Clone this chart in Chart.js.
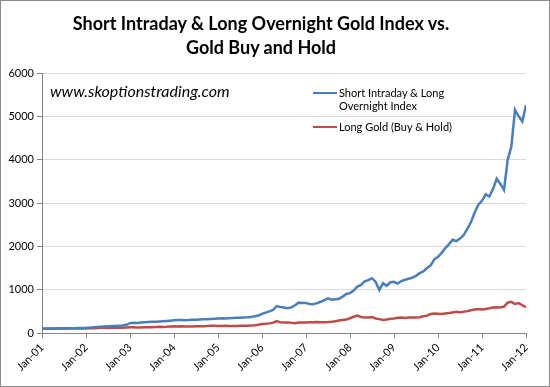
<!DOCTYPE html>
<html><head><meta charset="utf-8">
<script src="https://cdn.jsdelivr.net/npm/chart.js@4/dist/chart.umd.min.js"></script>
<style>
html,body{margin:0;padding:0;background:#fff;}
#wrap{position:relative;width:550px;height:387px;overflow:hidden;background:#fff;}
#frame{position:absolute;left:0;top:0;width:548px;height:385px;border:1px solid #8c8c8c;pointer-events:none;}
#title{position:absolute;left:0;top:11px;width:522px;text-align:center;font:bold 18px Lato, sans-serif;line-height:24px;color:#000;}
#wm{position:absolute;left:50px;top:81px;font:italic 16px Lato, sans-serif;color:#000;white-space:nowrap;}
.lg{position:absolute;font:11px Lato, sans-serif;color:#000;line-height:13px;white-space:nowrap;}
.sw{position:absolute;height:2px;width:24px;}
</style>
</head><body>
<div id="wrap">
<canvas id="c" width="550" height="387"></canvas>
<div id="title">Short Intraday &amp; Long Overnight Gold Index vs.<br>Gold Buy and Hold</div>
<div id="wm">www.skoptionstrading.com</div>
<div class="sw" style="left:313px;top:92px;background:#4a7ebb"></div>
<div class="lg" style="left:339px;top:86px">Short Intraday &amp; Long<br>Overnight Index</div>
<div class="sw" style="left:313px;top:126px;background:#be4b48"></div>
<div class="lg" style="left:339px;top:120px">Long Gold (Buy &amp; Hold)</div>
<div id="frame"></div>
</div>
<script>
const tickLabels = ['Jan-01','Jan-02','Jan-03','Jan-04','Jan-05','Jan-06','Jan-07','Jan-08','Jan-09','Jan-10','Jan-11','Jan-12'];
const seriesNames = ['Short Intraday & Long Overnight Index','Long Gold (Buy & Hold)'];
// monthly values, Jan 2001 .. Jan 2012
const indexValues = [
 100,103,101,105,107,104,108,110,109,112,114,116,
 119,124,131,138,146,152,158,163,160,168,175,190,
 228,236,232,242,250,256,262,258,266,272,278,285,
 292,298,302,296,300,308,305,312,318,316,322,328,
 334,338,336,342,347,352,350,356,362,370,385,405,
 440,470,500,530,620,600,590,570,590,640,700,690,
 690,670,665,690,720,760,800,770,780,790,840,900,
 920,980,1070,1110,1190,1220,1265,1180,995,1150,1090,1170,
 1180,1140,1200,1230,1250,1280,1320,1380,1420,1500,1560,1700,
 1760,1850,1960,2050,2150,2120,2180,2260,2400,2560,2780,2960,
 3050,3200,3150,3320,3560,3440,3300,4000,4300,5150,5000,4880,
 5260
];
const goldValues = [
 100,98,100,97,101,103,100,102,106,104,103,104,
 106,110,112,115,122,120,118,120,122,120,122,128,
 135,132,128,126,134,133,134,138,142,140,145,152,
 155,152,155,150,148,152,153,155,157,160,165,166,
 162,163,165,162,160,163,165,166,170,175,180,190,
 210,215,222,240,275,245,240,245,235,228,240,245,
 240,250,250,255,250,248,252,258,272,290,300,310,
 340,375,400,370,355,360,370,335,320,300,310,330,
 335,350,355,345,355,360,360,365,385,400,440,450,
 445,440,450,460,475,490,480,490,505,525,540,555,
 545,555,570,590,595,590,610,700,720,670,690,640,
 595
];
const toPts = arr => arr.map((v,i)=>({x:i,y:v}));
new Chart(document.getElementById('c'), {
  type:'line',
  data:{datasets:[
    {label:seriesNames[0],data:toPts(indexValues),borderColor:'#4a7ebb',borderWidth:2.5,pointRadius:0,tension:0},
    {label:seriesNames[1],data:toPts(goldValues),borderColor:'#be4b48',borderWidth:2.5,pointRadius:0,tension:0}
  ]},
  options:{
    responsive:false,animation:false,
    layout:{padding:{top:73,right:24,left:0,bottom:0}},
    plugins:{legend:{display:false},title:{display:false},tooltip:{enabled:false}},
    scales:{
      x:{type:'linear',min:0,max:132,
        afterFit:s=>{s.height=54;},
        ticks:{stepSize:12,autoSkip:false,maxRotation:45,minRotation:45,color:'#000',font:{family:'Lato',size:11},
          callback:v=>tickLabels[v/12]},
        grid:{drawOnChartArea:false,tickLength:5,color:'#868686'},
        border:{color:'#868686'}},
      y:{min:0,max:6000,
        afterFit:s=>{s.width=42;},
        ticks:{stepSize:1000,color:'#000',font:{family:'Lato',size:11},padding:3,callback:v=>String(v)},
        grid:{color:'#d9d9d9',tickColor:'#868686',tickLength:5},
        border:{color:'#868686'}}
    }
  }
});
</script>
</body></html>
